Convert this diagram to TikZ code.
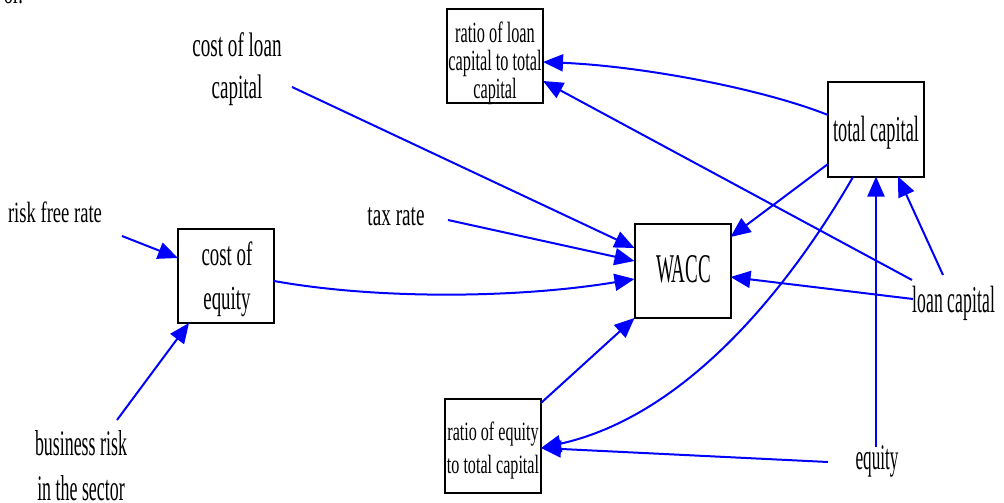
\documentclass[tikz,border=0pt]{standalone}
\usepackage{fontspec}
\setmainfont{Liberation Serif}
\usepackage{graphicx}
\usetikzlibrary{arrows.meta}
\newcommand\lbl[4]{\scalebox{#1}[#2]{\fontsize{10}{#3}\selectfont\begin{tabular}{@{}c@{}}#4\end{tabular}}}
\begin{document}
\begin{tikzpicture}[x=1pt,y=-1pt,
  box/.style={draw=black,line width=2pt,rectangle,inner sep=0pt,outer sep=0pt,minimum width=96pt,minimum height=94pt},
  txt/.style={inner sep=0pt,outer sep=0pt},
  link/.style={draw=blue,line width=2pt,-{Triangle[length=20pt,width=17pt]}}]
\useasboundingbox (0,0) rectangle (1004,503);
% boxes
\node[box] (rl) at (495,56) {};
\node[box] (wacc) at (682.5,271) {};
\node[box] (tc) at (876,129.5) {};
\node[box] (re) at (493,445.5) {};
\node[box] (coe) at (226,276) {};
% box texts
\node[txt] (rl-t) at (495,64) {\lbl{1.63}{2.93}{8.9}{ratio of loan\\capital to total\\capital}};
\node[txt] (wacc-t) at (683.5,273) {\lbl{1.9}{4.08}{12}{WACC}};
\node[txt] (tc-t) at (876,133) {\lbl{1.83}{3.66}{12}{total capital}};
\node[txt] (re-t) at (493,450) {\lbl{1.61}{2.64}{12.5}{ratio of equity\\to total capital}};
\node[txt] (coe-t) at (227,278.5) {\lbl{1.89}{3.37}{13.35}{cost of\\equity}};
% free labels
\node[txt,anchor=base east] (frag) at (23,4) {\lbl{1.85}{3.0}{12}{or.}};
\node[txt] (cl) at (237,69) {\lbl{1.91}{3.4}{12.6}{cost of loan\\capital}};
\node[txt] (rf) at (55,215) {\lbl{1.86}{2.93}{12}{risk free rate}};
\node[txt] (tax) at (396,218) {\lbl{1.92}{3.2}{12}{tax rate}};
\node[txt] (br) at (81,468.5) {\lbl{1.79}{3.6}{12.5}{business risk\\in the sector}};
\node[txt] (lc) at (954,303) {\lbl{1.77}{3.8}{12}{loan capital}};
\node[txt] (eq) at (877,461) {\lbl{1.72}{3.6}{12}{equity}};
% connector start points
\coordinate (cl-s) at (292,87);
\coordinate (tax-s) at (448,220);
\coordinate (rf-s) at (122,236);
\coordinate (br-s) at (117,420);
\coordinate (coe-s) at (274,281);
\coordinate (re-s) at (541,403);
\coordinate (tc-s1) at (828,115);
\coordinate (tc-s2) at (828,164);
\coordinate (tc-s3) at (853,177);
\coordinate (lc-s1) at (912,280);
\coordinate (lc-s2) at (913,299);
\coordinate (lc-s3) at (943,275);
\coordinate (eq-s1) at (876,447);
\coordinate (eq-s2) at (828,462);
% connectors
\draw[link] (cl-s) -- ([yshift=23pt]wacc.west);
\draw[link] (tax-s) -- ([yshift=10pt]wacc.west);
\draw[link] (coe-s) .. controls (380,300) and (520,298) .. ([yshift=-8pt]wacc.west);
\draw[link] (rf-s) -- ([yshift=18pt]coe.west);
\draw[link] (br-s) -- ([xshift=-37pt]coe.south);
\draw[link] (re-s) -- (wacc.south west);
\draw[link] (tc-s2) -- ([yshift=34pt]wacc.east);
\draw[link] (lc-s2) -- ([yshift=-6pt]wacc.east);
\draw[link] (tc-s1) .. controls (760,88) and (640,66) .. ([yshift=-6pt]rl.east);
\draw[link] (lc-s1) -- ([yshift=-25pt]rl.east);
\draw[link] (tc-s3) .. controls (793,281) and (690,415) .. ([yshift=-2.5pt]re.east);
\draw[link] (eq-s2) -- ([yshift=-2.5pt]re.east);
\draw[link] (eq-s1) -- (tc.south);
\draw[link] (lc-s3) -- ([xshift=22pt]tc.south);
\end{tikzpicture}
\end{document}
